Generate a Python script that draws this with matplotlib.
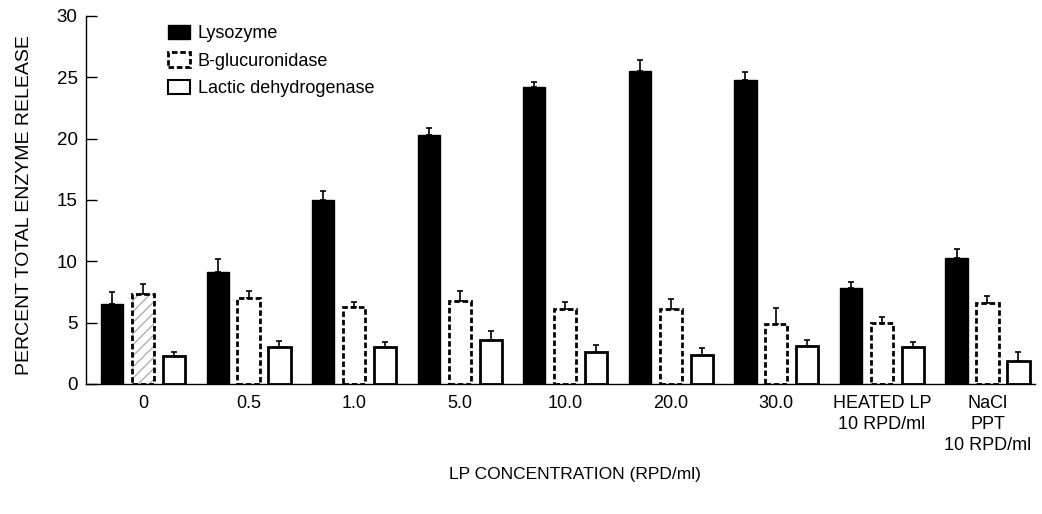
import numpy as np
import matplotlib.pyplot as plt
from matplotlib.patches import Patch

plt.rcParams['font.family'] = ['Liberation Sans', 'DejaVu Sans']

groups = ['0', '0.5', '1.0', '5.0', '10.0', '20.0', '30.0',
          'HEATED LP\n10 RPD/ml', 'NaCl\nPPT\n10 RPD/ml']

# mean values (percent of total enzyme released)
lysozyme = [6.5, 9.1, 15.0, 20.3, 24.2, 25.5, 24.8, 7.85, 10.3]
glucuronidase = [7.3, 7.0, 6.3, 6.8, 6.1, 6.1, 4.9, 5.0, 6.6]
ldh = [2.3, 3.0, 3.0, 3.6, 2.6, 2.35, 3.1, 3.0, 1.9]

# upper error (top of error bar minus mean)
lysozyme_err = [1.0, 1.1, 0.7, 0.6, 0.4, 0.9, 0.65, 0.45, 0.7]
glucuronidase_err = [0.85, 0.6, 0.4, 0.8, 0.6, 0.85, 1.3, 0.5, 0.6]
ldh_err = [0.3, 0.5, 0.4, 0.7, 0.55, 0.6, 0.5, 0.4, 0.7]

x = np.arange(len(groups))
width = 0.21
offset = 0.293

fig = plt.figure(figsize=(10.42, 5.14), dpi=100)
ax = fig.add_axes([86/1042, 1-384/514, 949/1042, 368/514])


def draw_err(xpos, vals, errs):
    zeros = np.zeros(len(vals))
    ax.errorbar(xpos, vals, yerr=[zeros, errs], fmt='none', ecolor='black',
                elinewidth=1.2, capsize=2.5, capthick=1.2)


ax.bar(x - offset, lysozyme, width, color='black', edgecolor='black', linewidth=1)

# light hatching inside the first B-glucuronidase bar
ax.bar(x[0], glucuronidase[0], width, color='white', edgecolor='#b0b0b0',
       linewidth=0, hatch='///')
ax.bar(x, glucuronidase, width, facecolor='none', edgecolor='black',
       linewidth=2, linestyle=(0, (2, 1)))
ax.bar(x + offset, ldh, width, color='white', edgecolor='black', linewidth=2)

draw_err(x - offset, lysozyme, lysozyme_err)
draw_err(x, glucuronidase, glucuronidase_err)
draw_err(x + offset, ldh, ldh_err)

ax.set_xlim(-0.54, 8.45)
ax.set_ylim(0, 30)
ax.set_yticks([0, 5, 10, 15, 20, 25, 30])
ax.set_xticks(x)
ax.set_xticklabels(groups, fontsize=13, linespacing=1.3)
ax.tick_params(axis='x', length=0, pad=8)
ax.tick_params(axis='y', direction='in', length=8, width=1, labelsize=13.5, pad=6)
ax.spines['top'].set_visible(False)
ax.spines['right'].set_visible(False)
ax.spines['left'].set_linewidth(1)
ax.spines['bottom'].set_linewidth(1)

fig.text(25/1042, 1-205/514, 'PERCENT TOTAL ENZYME RELEASE', rotation=90,
         ha='center', va='center', fontsize=14)
fig.text(575/1042, 1-475/514, 'LP CONCENTRATION (RPD/ml)',
         ha='center', va='center', fontsize=12.5)

handles = [Patch(facecolor='black', edgecolor='black'),
           Patch(facecolor='white', edgecolor='black', linewidth=2, linestyle=(0, (2, 1))),
           Patch(facecolor='white', edgecolor='black', linewidth=1.5)]
fig.legend(handles, ['Lysozyme', 'B-glucuronidase', 'Lactic dehydrogenase'],
           loc='upper left', bbox_to_anchor=(159/1042, 1-16/514), frameon=False,
           fontsize=13, borderpad=0, handlelength=1.2, handleheight=0.85,
           handletextpad=0.45, labelspacing=0.55)

fig.savefig('out.png', dpi=100)
